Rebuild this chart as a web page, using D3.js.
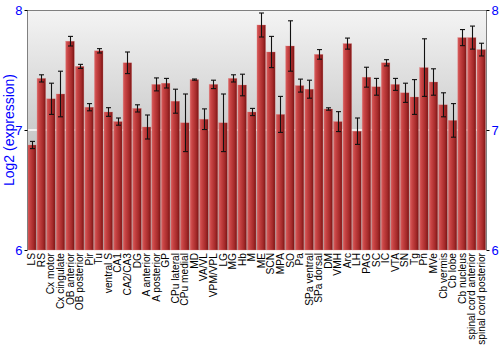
<!DOCTYPE html>
<html><head><meta charset="utf-8">
<script src="https://cdn.jsdelivr.net/npm/d3@7"></script>
<style>body{margin:0;background:#fff}svg{display:block}</style>
</head><body>
<svg id="c" width="500" height="350"></svg>
<script>
const categories = ["LS","RS","Cx motor","Cx cingulate","OB anterior","OB posterior","Pir","Tu","ventral S","CA1","CA2/CA3","DG","A anterior","A posterior","GP","CPu lateral","CPu medial","MD","VA/VL","VPM/VPL","LG","MG","Hb","M","ME","SCN","MPA","SO","Pa","SPa ventral","SPa dorsal","DM","VMH","Arc","LH","PAG","SC","IC","VTA","SN","Tg","Pn","MVe","Cb vermis","Cb lobe","Cb nucleus","spinal cord anterior","spinal cord posterior"];
const values = [6.875,7.43,7.26,7.30,7.74,7.53,7.19,7.66,7.15,7.07,7.56,7.18,7.025,7.38,7.39,7.24,7.06,7.42,7.09,7.38,7.06,7.43,7.375,7.15,7.875,7.65,7.13,7.70,7.37,7.34,7.63,7.175,7.07,7.72,6.99,7.44,7.36,7.56,7.38,7.31,7.275,7.52,7.40,7.21,7.08,7.77,7.77,7.67];
const errors = [0.03,0.03,0.13,0.19,0.04,0.017,0.03,0.018,0.036,0.03,0.09,0.03,0.1,0.054,0.04,0.1,0.24,0.005,0.086,0.035,0.24,0.03,0.09,0.03,0.1,0.13,0.15,0.21,0.054,0.075,0.04,0.01,0.083,0.046,0.11,0.083,0.07,0.026,0.05,0.08,0.145,0.24,0.11,0.10,0.14,0.067,0.096,0.053];
const yTicks = [6,7,8];

const svg = d3.select("#c");
const L=27, R=486, T=10, B=250;
const x = d3.scaleBand().domain(categories).range([L,R]).paddingInner(0.1).paddingOuter(0.05);
const y = d3.scaleLinear().domain([6,8]).range([B,T]);

const defs = svg.append("defs");
const bg = defs.append("linearGradient").attr("id","bg").attr("x1",0).attr("y1",0).attr("x2",0).attr("y2",1);
bg.append("stop").attr("offset","0%").attr("stop-color","#f4f4f4");
bg.append("stop").attr("offset","100%").attr("stop-color","#a4a4a4");
const bar = defs.append("linearGradient").attr("id","bar").attr("x1",0).attr("y1",0).attr("x2",1).attr("y2",0);
bar.append("stop").attr("offset","0%").attr("stop-color","#d86060");
bar.append("stop").attr("offset","25%").attr("stop-color","#c84444");
bar.append("stop").attr("offset","70%").attr("stop-color","#a52a2a");
bar.append("stop").attr("offset","100%").attr("stop-color","#7a1414");

svg.append("rect").attr("x",L).attr("y",T).attr("width",R-L).attr("height",B-T).attr("fill","url(#bg)");
svg.append("line").attr("x1",L).attr("x2",R).attr("y1",y(7)).attr("y2",y(7)).attr("stroke","#fff").attr("stroke-width",1.5);

svg.selectAll("rect.b").data(categories).enter().append("rect").attr("class","b")
  .attr("x",d=>x(d)).attr("width",x.bandwidth())
  .attr("y",(d,i)=>y(values[i])).attr("height",(d,i)=>B-y(values[i]))
  .attr("fill","url(#bar)").attr("stroke","#e08080").attr("stroke-width",0.5).attr("stroke-opacity",0.6);

const eb = svg.append("g").attr("stroke","#111").attr("stroke-width",1.1);
categories.forEach((d,i)=>{
  const cx = Math.round(x(d)+x.bandwidth()/2)+0.5;
  const y1=y(values[i]+errors[i]), y2=y(values[i]-errors[i]);
  eb.append("line").attr("x1",cx).attr("x2",cx).attr("y1",y1).attr("y2",y2);
  eb.append("line").attr("x1",cx-2.5).attr("x2",cx+2.5).attr("y1",y1).attr("y2",y1);
  eb.append("line").attr("x1",cx-2.5).attr("x2",cx+2.5).attr("y1",y2).attr("y2",y2);
});

svg.append("line").attr("x1",L).attr("x2",R).attr("y1",T+0.5).attr("y2",T+0.5).attr("stroke","#808080");
svg.append("line").attr("x1",L+0.5).attr("x2",L+0.5).attr("y1",T).attr("y2",B).attr("stroke","#808080");
svg.append("line").attr("x1",R+0.5).attr("x2",R+0.5).attr("y1",T).attr("y2",B).attr("stroke","#808080");

const yl = d3.axisLeft(y).tickValues(yTicks).tickFormat(d3.format("d")).tickSize(3).tickPadding(2);
const yr = d3.axisRight(y).tickValues(yTicks).tickFormat(d3.format("d")).tickSize(3).tickPadding(2);
const gl = svg.append("g").attr("transform",`translate(${L+0.5},0)`).call(yl);
const gr = svg.append("g").attr("transform",`translate(${R+0.5},0)`).call(yr);
[gl,gr].forEach(g=>{
  g.select(".domain").remove();
  g.selectAll(".tick line").attr("stroke","#000");
  g.selectAll(".tick text").attr("fill","#0000ff").style("font-family","Liberation Sans, Arial, sans-serif").style("font-size","13px");
});

const xa = d3.axisBottom(x).tickSize(0).tickPadding(0);
const gx = svg.append("g").attr("transform",`translate(0,${B})`).call(xa);
gx.select(".domain").remove();
gx.selectAll(".tick text")
  .attr("transform","rotate(-90)").attr("x",-3).attr("y",0).attr("dy","0.35em")
  .style("text-anchor","end").style("font-family","Liberation Sans, Arial, sans-serif").style("font-size","10.2px").attr("fill","#000");

svg.append("text").attr("transform",`translate(14,${(T+B)/2}) rotate(-90)`)
  .attr("text-anchor","middle").attr("fill","#0000ff")
  .style("font-family","Liberation Sans, Arial, sans-serif").style("font-size","14px")
  .text("Log2 (expression)");
</script>
</body></html>
